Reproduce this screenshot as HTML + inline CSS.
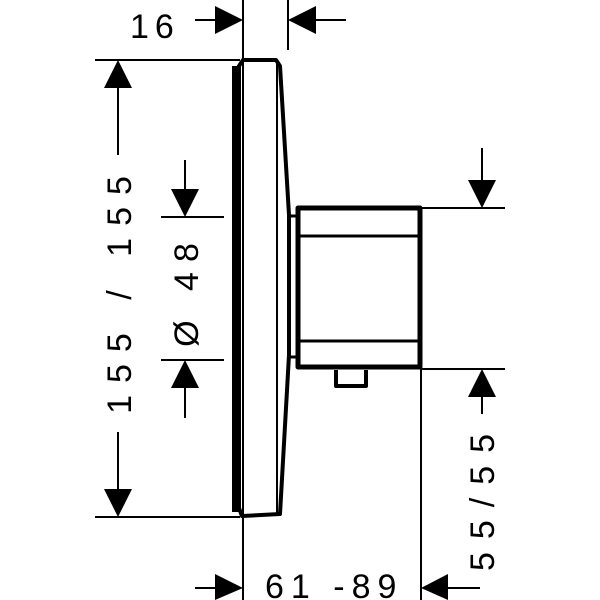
<!DOCTYPE html>
<html><head><style>body{margin:0;background:#fff}svg{display:block}text{font-family:"Liberation Sans",sans-serif;font-size:34px;fill:#000}</style></head>
<body>
<svg width="600" height="600" viewBox="0 0 600 600" xmlns="http://www.w3.org/2000/svg">
<g stroke="#000" stroke-width="2" fill="none">
<line x1="243" y1="0" x2="243" y2="600"/>
<line x1="288" y1="0" x2="288" y2="50"/>
<line x1="421" y1="208" x2="421" y2="600"/>
<line x1="95" y1="60" x2="240" y2="60"/>
<line x1="95" y1="517" x2="240" y2="517"/>
<line x1="161" y1="217" x2="224" y2="217"/>
<line x1="161" y1="360" x2="224" y2="360"/>
<line x1="421" y1="208" x2="505" y2="208"/>
<line x1="421" y1="369" x2="505" y2="369"/>
<line x1="118" y1="80" x2="118" y2="155"/>
<line x1="118" y1="432" x2="118" y2="500"/>
<line x1="185" y1="160" x2="185" y2="200"/>
<line x1="185" y1="378" x2="185" y2="418"/>
<line x1="482" y1="148" x2="482" y2="190"/>
<line x1="482" y1="385" x2="482" y2="414"/>
<line x1="195" y1="20" x2="225" y2="20"/>
<line x1="306" y1="20" x2="346" y2="20"/>
<line x1="195" y1="588" x2="225" y2="588"/>
<line x1="440" y1="588" x2="480" y2="588"/>
</g>
<g fill="#000">
<polygon points="118,60 104,88 132,88"/>
<polygon points="118,517 104,489 132,489"/>
<polygon points="185,217 171,189 199,189"/>
<polygon points="185,360 171,388 199,388"/>
<polygon points="482,208 468,180 496,180"/>
<polygon points="482,369 468,397 496,397"/>
<polygon points="243,20 215,6 215,34"/>
<polygon points="288,20 316,6 316,34"/>
<polygon points="243,588 215,574 215,600"/>
<polygon points="421,588 448,574 448,600"/>
</g>
<g stroke="#000" fill="none" stroke-linejoin="round">
<path d="M239,66 L239,508 L242,516 L280,514 L289,355 L289,215 L280,66 L276,60 L243,60 Z" stroke-width="4"/>
<line x1="236" y1="66" x2="236" y2="512" stroke-width="8"/>
<line x1="277" y1="64" x2="277" y2="514" stroke-width="2"/>
<rect x="298" y="208" width="122" height="159" stroke-width="5"/>
<line x1="300" y1="236" x2="418" y2="236" stroke-width="3"/>
<line x1="300" y1="341" x2="418" y2="341" stroke-width="3"/>
<line x1="289" y1="216" x2="298" y2="216" stroke-width="3"/>
<line x1="289" y1="357" x2="298" y2="357" stroke-width="3"/>
<path d="M336,370 L336,386 L366,386 L366,370" stroke-width="4"/>
</g>
<text x="130" y="38" letter-spacing="6">16</text>
<text x="265" y="598" letter-spacing="7">61 -89</text>
<text transform="translate(131,289) rotate(-90)" text-anchor="middle" letter-spacing="12">155 / 155</text>
<text transform="translate(198,290) rotate(-90)" text-anchor="middle" letter-spacing="10">Ø 48</text>
<text transform="translate(494,496) rotate(-90)" text-anchor="middle" letter-spacing="13">55/55</text>
</svg>
</body></html>
